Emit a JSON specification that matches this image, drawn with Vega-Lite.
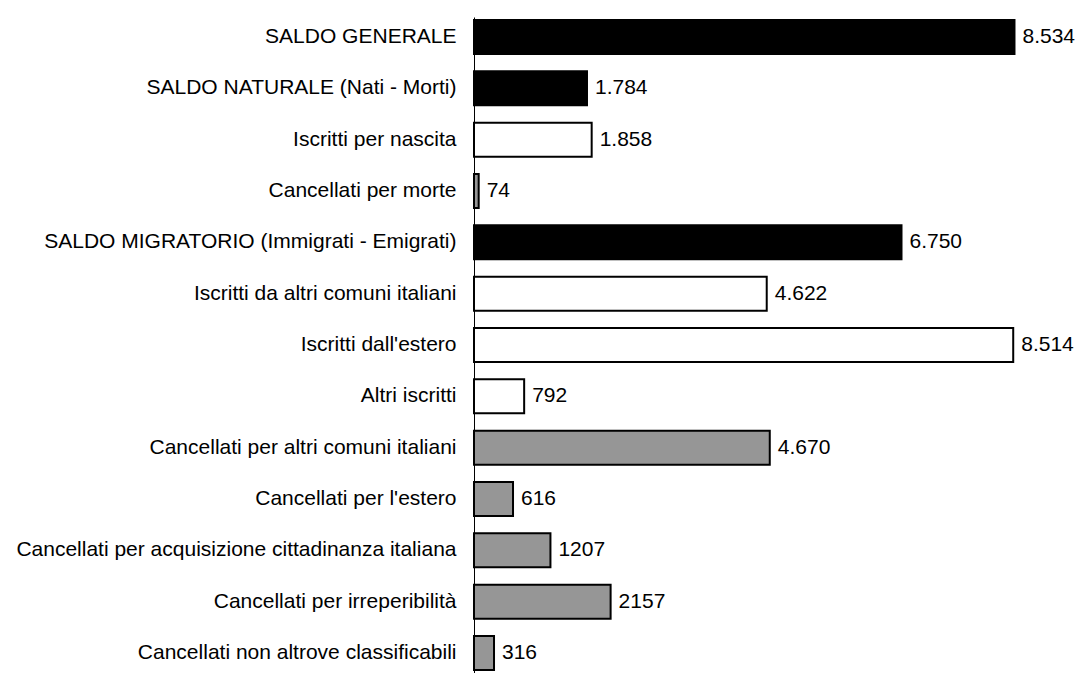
{
  "$schema": "https://vega.github.io/schema/vega-lite/v6.json",
  "autosize": "none",
  "width": 570,
  "height": 656,
  "padding": {"left": 474, "top": 17, "right": 33, "bottom": 0},
  "background": "white",
  "config": {"view": {"stroke": null}, "font": "Liberation Sans"},
  "data": {"values": [
    {"voce": "SALDO GENERALE", "valore": 8534, "etichetta": "8.534", "tipo": "saldo"},
    {"voce": "SALDO NATURALE (Nati - Morti)", "valore": 1784, "etichetta": "1.784", "tipo": "saldo"},
    {"voce": "Iscritti per nascita", "valore": 1858, "etichetta": "1.858", "tipo": "iscritti"},
    {"voce": "Cancellati per morte", "valore": 74, "etichetta": "74", "tipo": "cancellati"},
    {"voce": "SALDO MIGRATORIO (Immigrati - Emigrati)", "valore": 6750, "etichetta": "6.750", "tipo": "saldo"},
    {"voce": "Iscritti da altri comuni italiani", "valore": 4622, "etichetta": "4.622", "tipo": "iscritti"},
    {"voce": "Iscritti dall'estero", "valore": 8514, "etichetta": "8.514", "tipo": "iscritti"},
    {"voce": "Altri iscritti", "valore": 792, "etichetta": "792", "tipo": "iscritti"},
    {"voce": "Cancellati per altri comuni italiani", "valore": 4670, "etichetta": "4.670", "tipo": "cancellati"},
    {"voce": "Cancellati per l'estero", "valore": 616, "etichetta": "616", "tipo": "cancellati"},
    {"voce": "Cancellati per acquisizione cittadinanza italiana", "valore": 1207, "etichetta": "1207", "tipo": "cancellati"},
    {"voce": "Cancellati per irreperibilità ", "valore": 2157, "etichetta": "2157", "tipo": "cancellati"},
    {"voce": "Cancellati non altrove classificabili", "valore": 316, "etichetta": "316", "tipo": "cancellati"}
  ]},
  "encoding": {
    "y": {
      "field": "voce", "type": "nominal", "sort": null,
      "scale": {"paddingInner": 0.338, "paddingOuter": 0.0584},
      "axis": {
        "title": null, "ticks": false, "labelFontSize": 21, "labelColor": "#000",
        "labelPadding": 18, "labelLimit": 1000, "domainColor": "#000", "domainWidth": 1,
        "grid": false
      }
    },
    "x": {
      "field": "valore", "type": "quantitative",
      "scale": {"domain": [0, 9000], "nice": false},
      "axis": null
    }
  },
  "layer": [
    {
      "mark": {"type": "bar", "stroke": "#000", "strokeWidth": 2, "cornerRadius": 0},
      "encoding": {
        "color": {
          "field": "tipo", "type": "nominal",
          "scale": {"domain": ["saldo", "iscritti", "cancellati"], "range": ["#000000", "#ffffff", "#969696"]},
          "legend": null
        }
      }
    },
    {
      "mark": {"type": "text", "align": "left", "baseline": "middle", "dx": 8, "fontSize": 21, "color": "#000"},
      "encoding": {"text": {"field": "etichetta"}}
    }
  ]
}
